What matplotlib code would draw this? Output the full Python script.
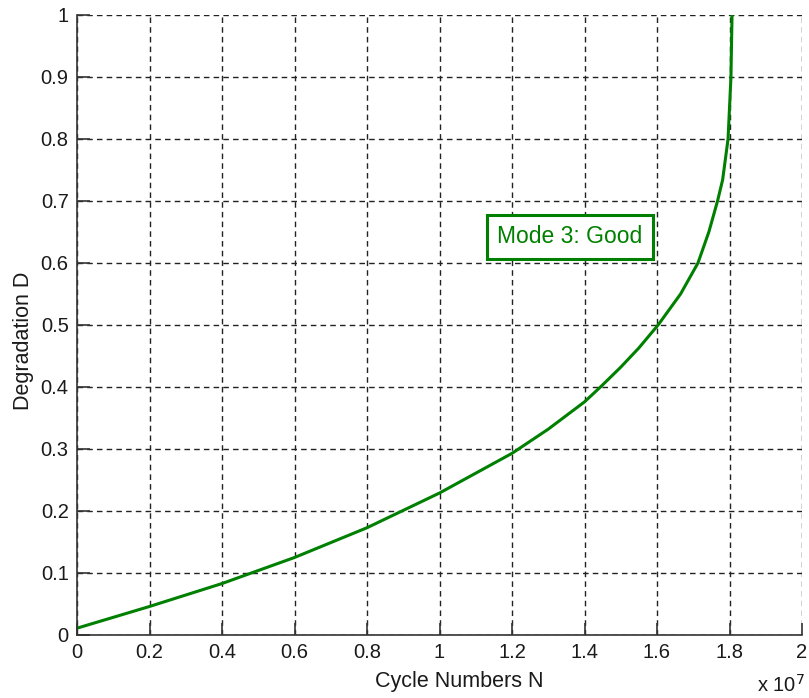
import numpy as np
import matplotlib
matplotlib.use('Agg')
import matplotlib.pyplot as plt

plt.rcParams['font.family'] = ['Liberation Sans', 'DejaVu Sans']

# --- Data (cycle numbers in units of 1e7) ---
cycles_e7 = [0, 0.2, 0.4, 0.6, 0.8, 1.0, 1.2, 1.3, 1.4, 1.444, 1.5, 1.55,
             1.603, 1.665, 1.713, 1.743, 1.767, 1.781, 1.796, 1.804, 1.807]
degradation = [0.011, 0.046, 0.083, 0.125, 0.173, 0.229, 0.293, 0.332, 0.376, 0.4, 0.432, 0.463,
               0.5, 0.55, 0.6, 0.65, 0.7, 0.734, 0.8, 0.9, 1.0]

x_ticks = [0, 0.2, 0.4, 0.6, 0.8, 1, 1.2, 1.4, 1.6, 1.8, 2]
x_tick_labels = ['0', '0.2', '0.4', '0.6', '0.8', '1', '1.2', '1.4', '1.6', '1.8', '2']
y_ticks = [0, 0.1, 0.2, 0.3, 0.4, 0.5, 0.6, 0.7, 0.8, 0.9, 1]
y_tick_labels = ['0', '0.1', '0.2', '0.3', '0.4', '0.5', '0.6', '0.7', '0.8', '0.9', '1']

label_text = 'Mode 3: Good'

# --- Plotting ---
fig = plt.figure(figsize=(8.09, 6.98), dpi=100)
ax = fig.add_axes([77 / 809, 63 / 698, 725 / 809, 620 / 698])

green = '#008000'
ax.plot(np.array(cycles_e7) * 1e7, degradation, color=green, linewidth=2.2)

ax.set_xlim(0, 2e7)
ax.set_ylim(0, 1)
ax.set_xticks(np.array(x_ticks) * 1e7)
ax.set_xticklabels(x_tick_labels)
ax.set_yticks(y_ticks)
ax.set_yticklabels(y_tick_labels)

ax.grid(True, color='#222222', linestyle=(0, (4, 3)), linewidth=1.0)
ax.spines['top'].set_visible(False)
ax.spines['right'].set_visible(False)
for side in ['left', 'bottom']:
    ax.spines[side].set_color('#333333')
    ax.spines[side].set_linewidth(1.2)
ax.tick_params(direction='in', length=9, width=1.2, color='#333333',
               labelsize=14.5, labelcolor='#1a1a1a', pad=6)

ax.set_xlabel('Cycle Numbers N', fontsize=15.5, color='#1a1a1a')
ax.set_ylabel('Degradation D', fontsize=15.5, color='#1a1a1a')
ax.xaxis.set_label_coords(0.527, -0.058)
ax.yaxis.set_label_coords(-0.059, 0.474)

fig.text(757 / 809, 1 - 692 / 698, r'x 10$^7$', fontsize=14.5, color='#1a1a1a',
         ha='left', va='baseline')

ax.text(1.159e7, 0.642, label_text, color=green, fontsize=16.5, ha='left', va='center',
        bbox=dict(boxstyle='square,pad=0.45', facecolor='white', edgecolor=green, linewidth=2.2))

fig.savefig('out.png', dpi=100)
plt.close(fig)
